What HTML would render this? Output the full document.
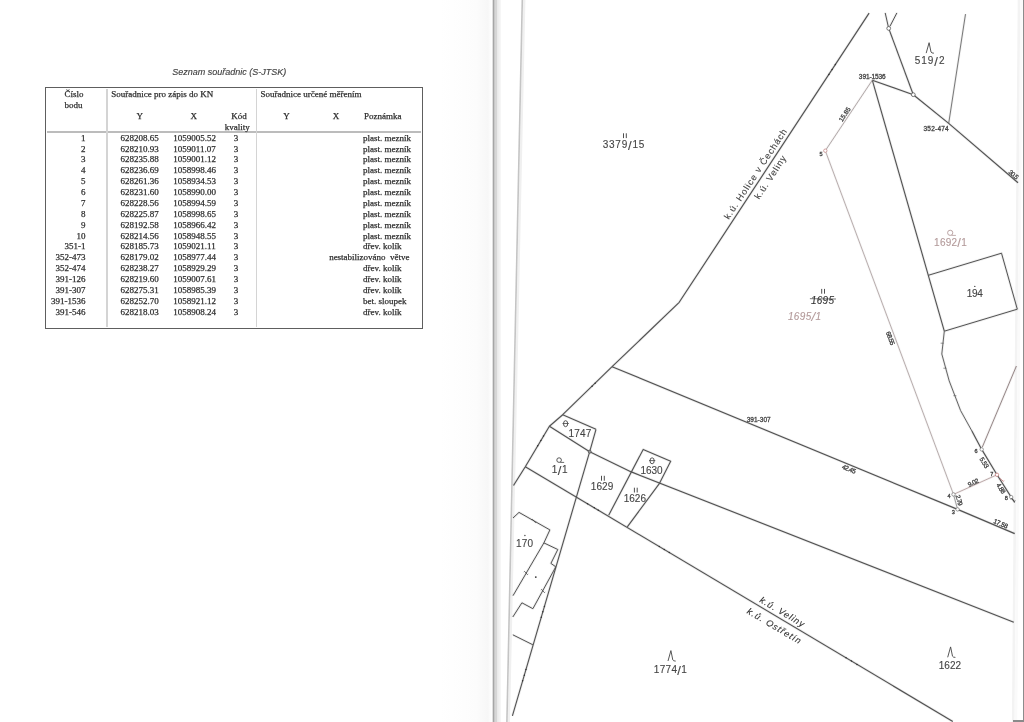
<!DOCTYPE html>
<html><head><meta charset="utf-8">
<style>
html,body{margin:0;padding:0;}
body{width:1024px;height:722px;position:relative;overflow:hidden;background:#fff;}
#wrap{position:absolute;left:0;top:0;width:1024px;height:722px;}
.abs{position:absolute;}
.t{position:absolute;font-family:"Liberation Serif",serif;font-size:9px;line-height:10px;color:#222;white-space:nowrap;-webkit-text-stroke:0.25px #3a3a3a;}
.c{text-align:center;}
#title{position:absolute;left:172.3px;top:67.1px;font-family:"Liberation Sans",sans-serif;font-style:italic;font-size:9px;line-height:10px;color:#383838;white-space:nowrap;-webkit-text-stroke:0.15px #555;}
</style></head>
<body><div id="wrap">
<div class="abs" style="left:440px;top:0;width:52px;height:722px;background:linear-gradient(to right,#fff 0%,#fcfcfc 70%,#f7f7f7 92%,#fff 100%);"></div>
<div class="abs" style="left:492px;top:0;width:1px;height:722px;background:#e0e0e0"></div>
<div class="abs" style="left:493px;top:0;width:1px;height:722px;background:#a6a6a6"></div>
<div class="abs" style="left:494px;top:0;width:1px;height:722px;background:#c8c8c8"></div>
<div class="abs" style="left:495px;top:0;width:2px;height:722px;background:#d6d6d6"></div>
<div class="abs" style="left:497px;top:0;width:4px;height:722px;background:linear-gradient(to right,#e8e8e8,#f8f8f8)"></div>
<svg class="abs" style="left:0;top:0" width="1024" height="722"><line x1="524.3" y1="0" x2="508.9" y2="722" stroke="#f0f0f0" stroke-width="2.2"/><line x1="522.3" y1="0" x2="506.9" y2="722" stroke="#c4c4c4" stroke-width="1.6"/></svg>
<svg class="abs" style="left:0;top:0" width="1024" height="722"><line x1="1019" y1="0" x2="1013.2" y2="722" stroke="#f3f3f3" stroke-width="2.6"/><line x1="1021.5" y1="0" x2="1016" y2="722" stroke="#fafafa" stroke-width="2.5"/></svg>
<div class="abs" style="left:1023px;top:0;width:1px;height:722px;background:#8c8c8c"></div>
<div class="abs" style="left:1013px;top:720px;width:11px;height:2px;background:#8a8a8a"></div>
<div class="abs" style="left:45.4px;top:87.0px;width:377.7px;height:241.5px;border:1.8px solid #5e5e5e;box-sizing:border-box;"></div>
<div class="abs" style="left:47px;top:131.4px;width:374px;height:1.3px;background:#bcbcbc"></div>
<div class="abs" style="left:106.2px;top:89px;width:1.7px;height:238px;background:#d4d4d4"></div>
<div class="abs" style="left:255.7px;top:89px;width:1.7px;height:238px;background:#d4d4d4"></div>
<div class="abs" style="left:0;top:0;width:1024px;height:722px;will-change:transform"><div id="title">Seznam souřadnic (S-JTSK)</div><div class="t" style="left:64.40px;top:89.00px">Číslo</div><div class="t" style="left:64.40px;top:99.90px">bodu</div><div class="t" style="left:111.30px;top:89.10px">Souřadnice pro zápis do KN</div><div class="t c" style="left:79.80px;width:120px;top:110.70px">Y</div><div class="t c" style="left:133.80px;width:120px;top:110.70px">X</div><div class="t c" style="left:179.00px;width:120px;top:110.70px">Kód</div><div class="t c" style="left:177.20px;width:120px;top:121.60px">kvality</div><div class="t" style="left:260.50px;top:89.10px">Souřadnice určené měřením</div><div class="t c" style="left:226.60px;width:120px;top:110.70px">Y</div><div class="t c" style="left:276.00px;width:120px;top:110.70px">X</div><div class="t" style="left:364.00px;top:110.70px">Poznámka</div><div class="t" style="right:938.40px;top:132.70px">1</div><div class="t c" style="left:79.70px;width:120px;top:132.70px">628208.65</div><div class="t c" style="left:134.50px;width:120px;top:132.70px">1059005.52</div><div class="t c" style="left:176.00px;width:120px;top:132.70px">3</div><div class="t" style="left:363.00px;top:132.70px">plast. mezník</div><div class="t" style="right:938.40px;top:143.57px">2</div><div class="t c" style="left:79.70px;width:120px;top:143.57px">628210.93</div><div class="t c" style="left:134.50px;width:120px;top:143.57px">1059011.07</div><div class="t c" style="left:176.00px;width:120px;top:143.57px">3</div><div class="t" style="left:363.00px;top:143.57px">plast. mezník</div><div class="t" style="right:938.40px;top:154.45px">3</div><div class="t c" style="left:79.70px;width:120px;top:154.45px">628235.88</div><div class="t c" style="left:134.50px;width:120px;top:154.45px">1059001.12</div><div class="t c" style="left:176.00px;width:120px;top:154.45px">3</div><div class="t" style="left:363.00px;top:154.45px">plast. mezník</div><div class="t" style="right:938.40px;top:165.32px">4</div><div class="t c" style="left:79.70px;width:120px;top:165.32px">628236.69</div><div class="t c" style="left:134.50px;width:120px;top:165.32px">1058998.46</div><div class="t c" style="left:176.00px;width:120px;top:165.32px">3</div><div class="t" style="left:363.00px;top:165.32px">plast. mezník</div><div class="t" style="right:938.40px;top:176.20px">5</div><div class="t c" style="left:79.70px;width:120px;top:176.20px">628261.36</div><div class="t c" style="left:134.50px;width:120px;top:176.20px">1058934.53</div><div class="t c" style="left:176.00px;width:120px;top:176.20px">3</div><div class="t" style="left:363.00px;top:176.20px">plast. mezník</div><div class="t" style="right:938.40px;top:187.07px">6</div><div class="t c" style="left:79.70px;width:120px;top:187.07px">628231.60</div><div class="t c" style="left:134.50px;width:120px;top:187.07px">1058990.00</div><div class="t c" style="left:176.00px;width:120px;top:187.07px">3</div><div class="t" style="left:363.00px;top:187.07px">plast. mezník</div><div class="t" style="right:938.40px;top:197.95px">7</div><div class="t c" style="left:79.70px;width:120px;top:197.95px">628228.56</div><div class="t c" style="left:134.50px;width:120px;top:197.95px">1058994.59</div><div class="t c" style="left:176.00px;width:120px;top:197.95px">3</div><div class="t" style="left:363.00px;top:197.95px">plast. mezník</div><div class="t" style="right:938.40px;top:208.82px">8</div><div class="t c" style="left:79.70px;width:120px;top:208.82px">628225.87</div><div class="t c" style="left:134.50px;width:120px;top:208.82px">1058998.65</div><div class="t c" style="left:176.00px;width:120px;top:208.82px">3</div><div class="t" style="left:363.00px;top:208.82px">plast. mezník</div><div class="t" style="right:938.40px;top:219.70px">9</div><div class="t c" style="left:79.70px;width:120px;top:219.70px">628192.58</div><div class="t c" style="left:134.50px;width:120px;top:219.70px">1058966.42</div><div class="t c" style="left:176.00px;width:120px;top:219.70px">3</div><div class="t" style="left:363.00px;top:219.70px">plast. mezník</div><div class="t" style="right:938.40px;top:230.57px">10</div><div class="t c" style="left:79.70px;width:120px;top:230.57px">628214.56</div><div class="t c" style="left:134.50px;width:120px;top:230.57px">1058948.55</div><div class="t c" style="left:176.00px;width:120px;top:230.57px">3</div><div class="t" style="left:363.00px;top:230.57px">plast. mezník</div><div class="t" style="right:938.40px;top:241.45px">351-1</div><div class="t c" style="left:79.70px;width:120px;top:241.45px">628185.73</div><div class="t c" style="left:134.50px;width:120px;top:241.45px">1059021.11</div><div class="t c" style="left:176.00px;width:120px;top:241.45px">3</div><div class="t" style="left:363.00px;top:241.45px">dřev. kolík</div><div class="t" style="right:938.40px;top:252.32px">352-473</div><div class="t c" style="left:79.70px;width:120px;top:252.32px">628179.02</div><div class="t c" style="left:134.50px;width:120px;top:252.32px">1058977.44</div><div class="t c" style="left:176.00px;width:120px;top:252.32px">3</div><div class="t" style="right:614.40px;top:252.32px">nestabilizováno&nbsp; větve</div><div class="t" style="right:938.40px;top:263.20px">352-474</div><div class="t c" style="left:79.70px;width:120px;top:263.20px">628238.27</div><div class="t c" style="left:134.50px;width:120px;top:263.20px">1058929.29</div><div class="t c" style="left:176.00px;width:120px;top:263.20px">3</div><div class="t" style="left:363.00px;top:263.20px">dřev. kolík</div><div class="t" style="right:938.40px;top:274.07px">391-126</div><div class="t c" style="left:79.70px;width:120px;top:274.07px">628219.60</div><div class="t c" style="left:134.50px;width:120px;top:274.07px">1059007.61</div><div class="t c" style="left:176.00px;width:120px;top:274.07px">3</div><div class="t" style="left:363.00px;top:274.07px">dřev. kolík</div><div class="t" style="right:938.40px;top:284.95px">391-307</div><div class="t c" style="left:79.70px;width:120px;top:284.95px">628275.31</div><div class="t c" style="left:134.50px;width:120px;top:284.95px">1058985.39</div><div class="t c" style="left:176.00px;width:120px;top:284.95px">3</div><div class="t" style="left:363.00px;top:284.95px">dřev. kolík</div><div class="t" style="right:938.40px;top:295.82px">391-1536</div><div class="t c" style="left:79.70px;width:120px;top:295.82px">628252.70</div><div class="t c" style="left:134.50px;width:120px;top:295.82px">1058921.12</div><div class="t c" style="left:176.00px;width:120px;top:295.82px">3</div><div class="t" style="left:363.00px;top:295.82px">bet. sloupek</div><div class="t" style="right:938.40px;top:306.70px">391-546</div><div class="t c" style="left:79.70px;width:120px;top:306.70px">628218.03</div><div class="t c" style="left:134.50px;width:120px;top:306.70px">1058908.24</div><div class="t c" style="left:176.00px;width:120px;top:306.70px">3</div><div class="t" style="left:363.00px;top:306.70px">dřev. kolík</div></div>
<svg class="abs" style="left:0;top:0;will-change:transform" width="1024" height="722" viewBox="0 0 1024 722"><polyline points="869.1,13.1 679.2,302.3 612.1,366.7 562.7,414.7 549.4,426.2 525.3,466.7 513.5,485.5" fill="none" stroke="#525252" stroke-width="2.75" stroke-linejoin="round" opacity="0.10"/><polyline points="869.1,13.1 679.2,302.3 612.1,366.7 562.7,414.7 549.4,426.2 525.3,466.7 513.5,485.5" fill="none" stroke="#525252" stroke-width="1.15" stroke-linejoin="round" opacity="1"/><polyline points="885.2,12.9 888.7,28.4" fill="none" stroke="#525252" stroke-width="2.60" stroke-linejoin="round" opacity="0.10"/><polyline points="885.2,12.9 888.7,28.4" fill="none" stroke="#525252" stroke-width="1.0" stroke-linejoin="round" opacity="1"/><polyline points="896.9,12.9 889.9,26.4" fill="none" stroke="#525252" stroke-width="2.60" stroke-linejoin="round" opacity="0.10"/><polyline points="896.9,12.9 889.9,26.4" fill="none" stroke="#525252" stroke-width="1.0" stroke-linejoin="round" opacity="1"/><polyline points="888.7,28.4 913.3,94.7" fill="none" stroke="#525252" stroke-width="2.70" stroke-linejoin="round" opacity="0.10"/><polyline points="888.7,28.4 913.3,94.7" fill="none" stroke="#525252" stroke-width="1.1" stroke-linejoin="round" opacity="1"/><polyline points="872.3,80.2 913.3,94.7 948.7,123.4 1018.0,182.8" fill="none" stroke="#525252" stroke-width="2.75" stroke-linejoin="round" opacity="0.10"/><polyline points="872.3,80.2 913.3,94.7 948.7,123.4 1018.0,182.8" fill="none" stroke="#525252" stroke-width="1.15" stroke-linejoin="round" opacity="1"/><polyline points="965.5,14.1 948.7,123.4" fill="none" stroke="#6a6a6a" stroke-width="2.50" stroke-linejoin="round" opacity="0.10"/><polyline points="965.5,14.1 948.7,123.4" fill="none" stroke="#6a6a6a" stroke-width="0.9" stroke-linejoin="round" opacity="1"/><circle cx="888.7" cy="28.4" r="1.9" fill="#fff" stroke="#555" stroke-width="0.8"/><circle cx="913.3" cy="94.7" r="1.9" fill="#fff" stroke="#555" stroke-width="0.8"/><polyline points="872.3,80.2 928.3,275.3 944.3,331.2" fill="none" stroke="#525252" stroke-width="2.70" stroke-linejoin="round" opacity="0.10"/><polyline points="872.3,80.2 928.3,275.3 944.3,331.2" fill="none" stroke="#525252" stroke-width="1.1" stroke-linejoin="round" opacity="1"/><polyline points="944.3,331.2 941.8,354.0 949.2,380.9 960.6,410.6 971.9,431.0" fill="none" stroke="#5c5c5c" stroke-width="2.55" stroke-linejoin="round" opacity="0.10"/><polyline points="944.3,331.2 941.8,354.0 949.2,380.9 960.6,410.6 971.9,431.0" fill="none" stroke="#5c5c5c" stroke-width="0.95" stroke-linejoin="round" opacity="1"/><polyline points="971.9,431.0 981.7,449.4 997.0,474.8 1011.2,497.1 1014.7,502.5" fill="none" stroke="#525252" stroke-width="2.75" stroke-linejoin="round" opacity="0.10"/><polyline points="971.9,431.0 981.7,449.4 997.0,474.8 1011.2,497.1 1014.7,502.5" fill="none" stroke="#525252" stroke-width="1.15" stroke-linejoin="round" opacity="1"/><polyline points="928.3,275.3 1001.5,253.2 1017.3,309.2 944.3,331.2" fill="none" stroke="#525252" stroke-width="2.60" stroke-linejoin="round" opacity="0.10"/><polyline points="928.3,275.3 1001.5,253.2 1017.3,309.2 944.3,331.2" fill="none" stroke="#525252" stroke-width="1.0" stroke-linejoin="round" opacity="1"/><polyline points="1016.4,366.0 982.3,447.1" fill="none" stroke="#8a7a7a" stroke-width="2.50" stroke-linejoin="round" opacity="0.10"/><polyline points="1016.4,366.0 982.3,447.1" fill="none" stroke="#8a7a7a" stroke-width="0.9" stroke-linejoin="round" opacity="1"/><polyline points="612.1,366.7 957.6,509.4 1014.7,533.6" fill="none" stroke="#525252" stroke-width="2.75" stroke-linejoin="round" opacity="0.10"/><polyline points="612.1,366.7 957.6,509.4 1014.7,533.6" fill="none" stroke="#525252" stroke-width="1.15" stroke-linejoin="round" opacity="1"/><polyline points="549.4,426.2 589.7,451.7 631.3,471.9 1013.8,622.3" fill="none" stroke="#525252" stroke-width="2.75" stroke-linejoin="round" opacity="0.10"/><polyline points="549.4,426.2 589.7,451.7 631.3,471.9 1013.8,622.3" fill="none" stroke="#525252" stroke-width="1.15" stroke-linejoin="round" opacity="1"/><polyline points="596.0,429.3 589.7,451.7 512.4,715.8" fill="none" stroke="#525252" stroke-width="2.70" stroke-linejoin="round" opacity="0.10"/><polyline points="596.0,429.3 589.7,451.7 512.4,715.8" fill="none" stroke="#525252" stroke-width="1.1" stroke-linejoin="round" opacity="1"/><polyline points="562.7,414.7 596.0,429.3" fill="none" stroke="#525252" stroke-width="2.70" stroke-linejoin="round" opacity="0.10"/><polyline points="562.7,414.7 596.0,429.3" fill="none" stroke="#525252" stroke-width="1.1" stroke-linejoin="round" opacity="1"/><polyline points="525.3,466.7 952.8,721.5" fill="none" stroke="#525252" stroke-width="2.75" stroke-linejoin="round" opacity="0.10"/><polyline points="525.3,466.7 952.8,721.5" fill="none" stroke="#525252" stroke-width="1.15" stroke-linejoin="round" opacity="1"/><polyline points="608.7,515.2 643.2,449.4 670.7,461.2 659.5,483.3 627.3,526.9" fill="none" stroke="#525252" stroke-width="2.70" stroke-linejoin="round" opacity="0.10"/><polyline points="608.7,515.2 643.2,449.4 670.7,461.2 659.5,483.3 627.3,526.9" fill="none" stroke="#525252" stroke-width="1.1" stroke-linejoin="round" opacity="1"/><polyline points="513.0,518.0 519.0,512.4 549.9,529.9 543.9,542.9 557.8,549.5 550.9,563.4 555.8,566.8" fill="none" stroke="#525252" stroke-width="2.60" stroke-linejoin="round" opacity="0.10"/><polyline points="513.0,518.0 519.0,512.4 549.9,529.9 543.9,542.9 557.8,549.5 550.9,563.4 555.8,566.8" fill="none" stroke="#525252" stroke-width="1.0" stroke-linejoin="round" opacity="1"/><polyline points="543.9,542.9 513.0,595.7" fill="none" stroke="#525252" stroke-width="2.60" stroke-linejoin="round" opacity="0.10"/><polyline points="543.9,542.9 513.0,595.7" fill="none" stroke="#525252" stroke-width="1.0" stroke-linejoin="round" opacity="1"/><polyline points="555.8,566.8 532.9,608.7 521.9,602.8 512.8,617.0" fill="none" stroke="#525252" stroke-width="2.60" stroke-linejoin="round" opacity="0.10"/><polyline points="555.8,566.8 532.9,608.7 521.9,602.8 512.8,617.0" fill="none" stroke="#525252" stroke-width="1.0" stroke-linejoin="round" opacity="1"/><polyline points="512.8,634.8 532.9,644.8" fill="none" stroke="#525252" stroke-width="2.60" stroke-linejoin="round" opacity="0.10"/><polyline points="512.8,634.8 532.9,644.8" fill="none" stroke="#525252" stroke-width="1.0" stroke-linejoin="round" opacity="1"/><polyline points="872.3,80.2 825.3,150.7" fill="none" stroke="#a09494" stroke-width="2.40" stroke-linejoin="round" opacity="0.10"/><polyline points="872.3,80.2 825.3,150.7" fill="none" stroke="#a09494" stroke-width="0.8" stroke-linejoin="round" opacity="1"/><polyline points="825.3,150.7 953.5,494.4" fill="none" stroke="#a89a9a" stroke-width="2.40" stroke-linejoin="round" opacity="0.10"/><polyline points="825.3,150.7 953.5,494.4" fill="none" stroke="#a89a9a" stroke-width="0.8" stroke-linejoin="round" opacity="1"/><polyline points="953.5,494.4 997.0,474.8" fill="none" stroke="#ac9696" stroke-width="2.40" stroke-linejoin="round" opacity="0.10"/><polyline points="953.5,494.4 997.0,474.8" fill="none" stroke="#ac9696" stroke-width="0.8" stroke-linejoin="round" opacity="1"/><polyline points="953.5,494.4 957.6,509.4" fill="none" stroke="#888" stroke-width="2.40" stroke-linejoin="round" opacity="0.10"/><polyline points="953.5,494.4 957.6,509.4" fill="none" stroke="#888" stroke-width="0.8" stroke-linejoin="round" opacity="1"/><circle cx="825.3" cy="150.7" r="1.7" fill="#fff" stroke="#c08080" stroke-width="0.7"/><circle cx="953.5" cy="494.4" r="1.7" fill="#fff" stroke="#777" stroke-width="0.7"/><circle cx="957.6" cy="509.4" r="1.7" fill="#fff" stroke="#777" stroke-width="0.7"/><circle cx="981.7" cy="449.4" r="1.7" fill="#fff" stroke="#777" stroke-width="0.7"/><circle cx="997" cy="474.8" r="1.7" fill="#fff" stroke="#c07070" stroke-width="0.7"/><circle cx="1011.2" cy="497.1" r="1.7" fill="#fff" stroke="#777" stroke-width="0.7"/><circle cx="589.7" cy="451.7" r="1.5" fill="#999" stroke="#555" stroke-width="0.8"/><path d="M623.50,133.30v4.8M626.30,133.30v4.8" stroke="#444" stroke-width="0.95" fill="none"/><path d="M926.20,53.10L929.10,42.70L931.00,52.00Q931.50,53.20 933.90,53.20" stroke="#444" stroke-width="0.9" fill="none" stroke-linejoin="round"/><path d="M821.70,288.90v4.8M824.50,288.90v4.8" stroke="#444" stroke-width="0.95" fill="none"/><path d="M809.9,298.7L836,299" stroke="#555" stroke-width="0.8"/><ellipse cx="565.6" cy="423.7" rx="2.1" ry="3.0" fill="none" stroke="#444" stroke-width="0.9"/><path d="M562.50,423.50h6.3" stroke="#444" stroke-width="0.8"/><circle cx="559.1" cy="460.1" r="2.3" fill="none" stroke="#444" stroke-width="0.9"/><path d="M560.25,462.40h3.91" stroke="#444" stroke-width="0.8"/><path d="M601.50,475.80v4.9M604.30,475.80v4.9" stroke="#444" stroke-width="0.95" fill="none"/><path d="M634.40,487.70v4.8M637.20,487.70v4.8" stroke="#444" stroke-width="0.95" fill="none"/><ellipse cx="652.1" cy="460.8" rx="2.1" ry="3.0" fill="none" stroke="#444" stroke-width="0.9"/><path d="M649.00,460.60h6.3" stroke="#444" stroke-width="0.8"/><circle cx="974.8" cy="286.4" r="0.7" fill="#444"/><circle cx="524.9" cy="535.5" r="0.7" fill="#444"/><circle cx="535.8" cy="577.1" r="0.9" fill="#333"/><circle cx="950.2" cy="232.8" r="2.6" fill="none" stroke="#b39a9a" stroke-width="0.9"/><path d="M951.50,235.40h4.42" stroke="#b39a9a" stroke-width="0.8"/><path d="M668.00,661.00L670.90,650.60L672.80,659.90Q673.30,661.10 675.70,661.10" stroke="#444" stroke-width="0.9" fill="none" stroke-linejoin="round"/><path d="M947.70,657.30L950.60,646.90L952.50,656.20Q953.00,657.40 955.40,657.40" stroke="#444" stroke-width="0.9" fill="none" stroke-linejoin="round"/><circle cx="835.348755186722" cy="64.5" r="0.75" fill="#333"/><circle cx="832.13122406639" cy="69.4" r="0.75" fill="#333"/><circle cx="828.8480290456432" cy="74.4" r="0.75" fill="#333"/><circle cx="595.11875" cy="383.2" r="0.75" fill="#333"/><circle cx="592.03125" cy="386.2" r="0.75" fill="#333"/><circle cx="543.5088888888888" cy="436.1" r="0.75" fill="#333"/><circle cx="540.8906172839506" cy="440.5" r="0.75" fill="#333"/><circle cx="537.7367901234568" cy="445.8" r="0.75" fill="#333"/><circle cx="587.5" cy="503.77265497076024" r="0.75" fill="#333"/><circle cx="594.3" cy="507.8256140350877" r="0.75" fill="#333"/><circle cx="598.4" cy="510.2693099415205" r="0.75" fill="#333"/><circle cx="659.3" cy="546.567134502924" r="0.75" fill="#333"/><circle cx="664.3" cy="549.5472514619883" r="0.75" fill="#333"/><circle cx="669.3" cy="552.5273684210526" r="0.75" fill="#333"/><circle cx="846.0" cy="657.844701754386" r="0.75" fill="#333"/><circle cx="851.5" cy="661.1228304093568" r="0.75" fill="#333"/><circle cx="857.0" cy="664.4009590643275" r="0.75" fill="#333"/><circle cx="544.4205225293449" cy="606.4" r="0.75" fill="#333"/><circle cx="542.8399848542219" cy="611.8" r="0.75" fill="#333"/><circle cx="541.2594471790989" cy="617.2" r="0.75" fill="#333"/><circle cx="525.9516471033699" cy="669.5" r="0.75" fill="#333"/><circle cx="524.2833017796289" cy="675.2" r="0.75" fill="#333"/><circle cx="522.6442256720939" cy="680.8" r="0.75" fill="#333"/><g transform="translate(534,521) rotate(-20)"><path d="M-0.8,-2 L0.8,2 M-0.8,-2 l-0.9,0.3 M0.8,2 l0.9,-0.3" stroke="#444" stroke-width="0.7" fill="none"/></g><g transform="translate(526,573) rotate(-20)"><path d="M-0.8,-2 L0.8,2 M-0.8,-2 l-0.9,0.3 M0.8,2 l0.9,-0.3" stroke="#444" stroke-width="0.7" fill="none"/></g><g transform="translate(543,591) rotate(-20)"><path d="M-0.8,-2 L0.8,2 M-0.8,-2 l-0.9,0.3 M0.8,2 l0.9,-0.3" stroke="#444" stroke-width="0.7" fill="none"/></g><path d="M940.6,343.2h3.2M943.3,368.2h3.2M953.4,395.7h3" stroke="#555" stroke-width="0.6"/><g transform="translate(1001.8,480) rotate(-30)"><path d="M-0.8,-2 L0.8,2 M-0.8,-2 l-0.9,0.3 M0.8,2 l0.9,-0.3" stroke="#c07070" stroke-width="0.7" fill="none"/></g><g transform="translate(1013,500) rotate(-30)"><path d="M-0.8,-2 L0.8,2 M-0.8,-2 l-0.9,0.3 M0.8,2 l0.9,-0.3" stroke="#444" stroke-width="0.7" fill="none"/></g><g transform="translate(623.50,144.40) rotate(0.00)"><text x="0" y="3.98" text-anchor="middle" font-family="Liberation Sans" font-size="10.0" textLength="41.6" lengthAdjust="spacing" fill="#444" stroke="#444" stroke-width="0.12">3379<tspan font-size="13.0" dy="1.3">/</tspan><tspan dy="-1.3">15</tspan></text></g><g transform="translate(755.00,173.70) rotate(-56.60)"><text x="0" y="3.62" text-anchor="middle" font-family="Liberation Sans" font-size="9" textLength="106" lengthAdjust="spacing" fill="#444" stroke="#444" stroke-width="0.12">k.ú. Holice v Čechách</text></g><g transform="translate(769.80,177.00) rotate(-56.60)"><text x="0" y="3.62" text-anchor="middle" font-family="Liberation Sans" font-size="9" textLength="50" lengthAdjust="spacing" fill="#444" stroke="#444" stroke-width="0.12">k.ú. Veliny</text></g><g transform="translate(929.60,60.50) rotate(0.00)"><text x="0" y="3.98" text-anchor="middle" font-family="Liberation Sans" font-size="10.0" textLength="29.8" lengthAdjust="spacing" fill="#444" stroke="#444" stroke-width="0.12">519<tspan font-size="13.0" dy="1.3">/</tspan><tspan dy="-1.3">2</tspan></text></g><g transform="translate(872.30,76.50) rotate(0.00)"><text x="0" y="2.33" text-anchor="middle" font-family="Liberation Sans" font-size="6.5" textLength="26.9" lengthAdjust="spacing" fill="#444" stroke="#444" stroke-width="0.3">391-1536</text></g><g transform="translate(936.10,128.40) rotate(0.00)"><text x="0" y="2.33" text-anchor="middle" font-family="Liberation Sans" font-size="6.5" textLength="25.2" lengthAdjust="spacing" fill="#444" stroke="#444" stroke-width="0.3">352-474</text></g><g transform="translate(1013.60,174.50) rotate(40.60)"><text x="0" y="2.33" text-anchor="middle" font-family="Liberation Sans" font-size="6.5" textLength="11" lengthAdjust="spacing" fill="#444" stroke="#444" stroke-width="0.3">30.5</text></g><g transform="translate(844.60,114.30) rotate(-56.50)"><text x="0" y="2.33" text-anchor="middle" font-family="Liberation Sans" font-size="6.5" textLength="16" lengthAdjust="spacing" fill="#444" stroke="#444" stroke-width="0.3">15.85</text></g><g transform="translate(821.00,153.90) rotate(0.00)"><text x="0" y="2.00" text-anchor="middle" font-family="Liberation Sans" font-size="5.6" fill="#444" stroke="#444" stroke-width="0.3">5</text></g><g transform="translate(950.40,242.00) rotate(0.00)"><text x="0" y="3.98" text-anchor="middle" font-family="Liberation Sans" font-size="10.0" textLength="32.6" lengthAdjust="spacing" fill="#b39a9a" stroke="#b39a9a" stroke-width="0.12">1692<tspan font-size="13.0" dy="1.3">/</tspan><tspan dy="-1.3">1</tspan></text></g><g transform="translate(974.80,292.80) rotate(0.00)"><text x="0" y="3.98" text-anchor="middle" font-family="Liberation Sans" font-size="10.0" textLength="16.1" lengthAdjust="spacing" fill="#444" stroke="#444" stroke-width="0.12">194</text></g><g transform="translate(822.50,299.90) rotate(0.00)"><text x="0" y="3.98" text-anchor="middle" font-family="Liberation Sans" font-size="10.0" font-style="italic" textLength="22.9" lengthAdjust="spacing" fill="#333" stroke="#333" stroke-width="0.12">1695</text></g><g transform="translate(804.50,316.10) rotate(0.00)"><text x="0" y="3.98" text-anchor="middle" font-family="Liberation Sans" font-size="10.0" font-style="italic" textLength="33.2" lengthAdjust="spacing" fill="#b39a9a" stroke="#b39a9a" stroke-width="0.12">1695<tspan font-size="13.0" dy="1.3">/</tspan><tspan dy="-1.3">1</tspan></text></g><g transform="translate(890.50,338.30) rotate(69.50)"><text x="0" y="2.33" text-anchor="middle" font-family="Liberation Sans" font-size="6.5" textLength="14" lengthAdjust="spacing" fill="#444" stroke="#444" stroke-width="0.3">68.55</text></g><g transform="translate(758.70,419.50) rotate(0.00)"><text x="0" y="2.33" text-anchor="middle" font-family="Liberation Sans" font-size="6.5" textLength="23.9" lengthAdjust="spacing" fill="#444" stroke="#444" stroke-width="0.3">391-307</text></g><g transform="translate(849.00,469.00) rotate(22.40)"><text x="0" y="2.33" text-anchor="middle" font-family="Liberation Sans" font-size="6.5" textLength="14.5" lengthAdjust="spacing" fill="#444" stroke="#444" stroke-width="0.3">42.45</text></g><g transform="translate(976.10,451.00) rotate(0.00)"><text x="0" y="2.00" text-anchor="middle" font-family="Liberation Sans" font-size="5.6" fill="#444" stroke="#444" stroke-width="0.3">6</text></g><g transform="translate(984.40,462.70) rotate(58.00)"><text x="0" y="2.33" text-anchor="middle" font-family="Liberation Sans" font-size="6.5" textLength="11.5" lengthAdjust="spacing" fill="#444" stroke="#444" stroke-width="0.3">5.53</text></g><g transform="translate(991.70,473.90) rotate(0.00)"><text x="0" y="2.00" text-anchor="middle" font-family="Liberation Sans" font-size="5.6" fill="#444" stroke="#444" stroke-width="0.3">7</text></g><g transform="translate(973.20,482.40) rotate(-24.30)"><text x="0" y="2.33" text-anchor="middle" font-family="Liberation Sans" font-size="6.5" textLength="11.5" lengthAdjust="spacing" fill="#444" stroke="#444" stroke-width="0.3">9.02</text></g><g transform="translate(1001.10,488.30) rotate(57.00)"><text x="0" y="2.33" text-anchor="middle" font-family="Liberation Sans" font-size="6.5" textLength="11.5" lengthAdjust="spacing" fill="#444" stroke="#444" stroke-width="0.3">4.88</text></g><g transform="translate(1006.40,498.30) rotate(0.00)"><text x="0" y="2.00" text-anchor="middle" font-family="Liberation Sans" font-size="5.6" fill="#444" stroke="#444" stroke-width="0.3">8</text></g><g transform="translate(949.00,496.00) rotate(0.00)"><text x="0" y="2.00" text-anchor="middle" font-family="Liberation Sans" font-size="5.6" fill="#444" stroke="#444" stroke-width="0.3">4</text></g><g transform="translate(959.30,500.20) rotate(75.00)"><text x="0" y="2.33" text-anchor="middle" font-family="Liberation Sans" font-size="6.5" textLength="11" lengthAdjust="spacing" fill="#444" stroke="#444" stroke-width="0.3">2.79</text></g><g transform="translate(953.40,512.30) rotate(0.00)"><text x="0" y="2.00" text-anchor="middle" font-family="Liberation Sans" font-size="5.6" fill="#444" stroke="#444" stroke-width="0.3">3</text></g><g transform="translate(1000.80,523.60) rotate(22.90)"><text x="0" y="2.33" text-anchor="middle" font-family="Liberation Sans" font-size="6.5" textLength="15" lengthAdjust="spacing" fill="#444" stroke="#444" stroke-width="0.3">17.58</text></g><g transform="translate(580.00,433.50) rotate(0.00)"><text x="0" y="3.98" text-anchor="middle" font-family="Liberation Sans" font-size="10.0" textLength="22.8" lengthAdjust="spacing" fill="#444" stroke="#444" stroke-width="0.12">1747</text></g><g transform="translate(559.65,469.50) rotate(0.00)"><text x="0" y="3.98" text-anchor="middle" font-family="Liberation Sans" font-size="10.0" textLength="15.9" lengthAdjust="spacing" fill="#444" stroke="#444" stroke-width="0.12">1<tspan font-size="13.0" dy="1.3">/</tspan><tspan dy="-1.3">1</tspan></text></g><g transform="translate(602.00,486.20) rotate(0.00)"><text x="0" y="3.98" text-anchor="middle" font-family="Liberation Sans" font-size="10.0" textLength="22.6" lengthAdjust="spacing" fill="#444" stroke="#444" stroke-width="0.12">1629</text></g><g transform="translate(634.80,498.40) rotate(0.00)"><text x="0" y="3.98" text-anchor="middle" font-family="Liberation Sans" font-size="10.0" textLength="22.3" lengthAdjust="spacing" fill="#444" stroke="#444" stroke-width="0.12">1626</text></g><g transform="translate(651.50,469.60) rotate(0.00)"><text x="0" y="3.98" text-anchor="middle" font-family="Liberation Sans" font-size="10.0" textLength="21.9" lengthAdjust="spacing" fill="#444" stroke="#444" stroke-width="0.12">1630</text></g><g transform="translate(524.50,542.90) rotate(0.00)"><text x="0" y="3.98" text-anchor="middle" font-family="Liberation Sans" font-size="10.0" textLength="16.9" lengthAdjust="spacing" fill="#444" stroke="#444" stroke-width="0.12">170</text></g><g transform="translate(782.40,611.40) rotate(30.70)"><text x="0" y="3.62" text-anchor="middle" font-family="Liberation Sans" font-size="9" font-style="italic" textLength="50" lengthAdjust="spacing" fill="#333" stroke="#333" stroke-width="0.12">k.ú. Veliny</text></g><g transform="translate(774.40,625.40) rotate(30.70)"><text x="0" y="3.62" text-anchor="middle" font-family="Liberation Sans" font-size="9" font-style="italic" textLength="61" lengthAdjust="spacing" fill="#333" stroke="#333" stroke-width="0.12">k.ú. Ostřetín</text></g><g transform="translate(670.30,669.30) rotate(0.00)"><text x="0" y="3.98" text-anchor="middle" font-family="Liberation Sans" font-size="10.0" textLength="33.2" lengthAdjust="spacing" fill="#444" stroke="#444" stroke-width="0.12">1774<tspan font-size="13.0" dy="1.3">/</tspan><tspan dy="-1.3">1</tspan></text></g><g transform="translate(949.90,664.80) rotate(0.00)"><text x="0" y="3.98" text-anchor="middle" font-family="Liberation Sans" font-size="10.0" textLength="22.3" lengthAdjust="spacing" fill="#444" stroke="#444" stroke-width="0.12">1622</text></g></svg>
</div></body></html>
